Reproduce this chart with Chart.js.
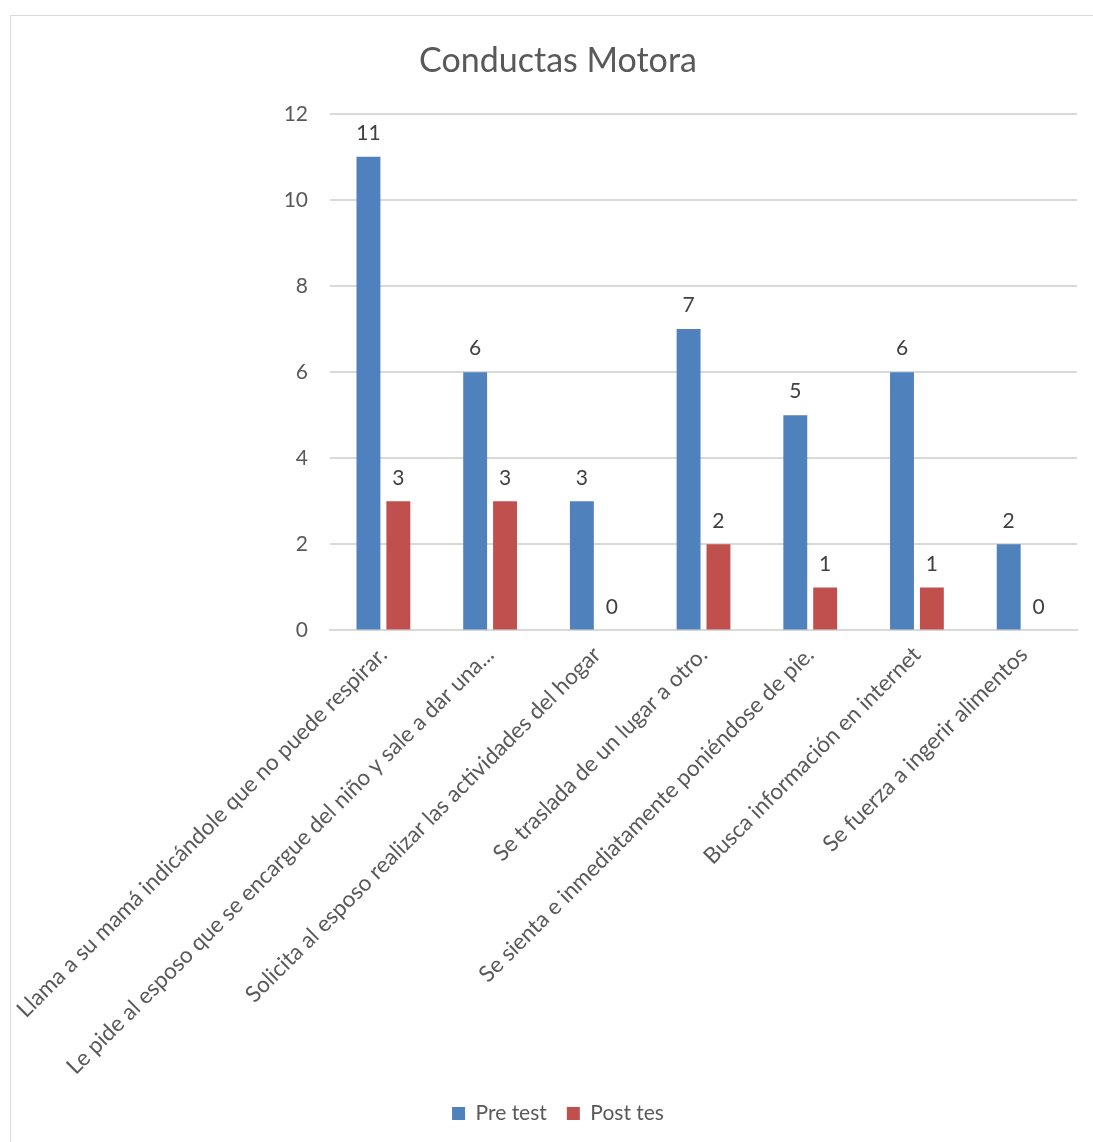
<!DOCTYPE html>
<html>
<head>
<meta charset="utf-8">
<script src="https://cdn.jsdelivr.net/npm/chart.js@4"></script>
<style>
  html, body { margin: 0; padding: 0; background: #fff; overflow: hidden; }
  #box {
    position: absolute; left: 10px; top: 15px;
    width: 1100px; height: 1140px;
    border: 1px solid #d9d9d9; box-sizing: border-box;
  }
  #wrap { position: absolute; left: 0; top: 0; width: 1071px; height: 1125px; }
</style>
</head>
<body>
<div id="box"><div id="wrap"><canvas id="chart"></canvas></div></div>
<script>
const categories = [
    'Llama a su mamá indicándole que no puede respirar.',
    'Le pide al esposo que se encargue del niño y sale a dar una...',
    'Solicita al esposo realizar las actividades del hogar',
    'Se traslada de un lugar a otro.',
    'Se sienta e inmediatamente poniéndose de pie.',
    'Busca información en internet',
    'Se fuerza a ingerir alimentos'
];
const preTest = [11, 6, 3, 7, 5, 6, 2];
const postTest = [3, 3, 0, 2, 1, 1, 0];
const yTicks = [0, 2, 4, 6, 8, 10, 12];

const FONT = 'Lato, "Open Sans", sans-serif';
const GREY = '#595959';

// draws the value above each bar, like the data labels in the original
const valueLabels = {
    id: 'valueLabels',
    afterDatasetsDraw(chart) {
        const ctx = chart.ctx;
        ctx.save();
        ctx.font = '21px ' + FONT;
        ctx.fillStyle = '#404040';
        ctx.textAlign = 'center';
        ctx.textBaseline = 'bottom';
        chart.data.datasets.forEach((ds, i) => {
            chart.getDatasetMeta(i).data.forEach((bar, j) => {
                ctx.fillText(ds.data[j], bar.x, bar.y - 13);
            });
        });
        ctx.restore();
    }
};

const ctx = document.getElementById('chart').getContext('2d');
new Chart(ctx, {
    type: 'bar',
    data: {
        labels: categories,
        datasets: [{
            label: 'Pre test',
            data: preTest,
            backgroundColor: '#4F81BD',
            categoryPercentage: 0.56,
            barPercentage: 0.8
        }, {
            label: 'Post tes',
            data: postTest,
            backgroundColor: '#C0504D',
            categoryPercentage: 0.56,
            barPercentage: 0.8
        }]
    },
    options: {
        responsive: true,
        maintainAspectRatio: false,
        animation: false,
        layout: { padding: { left: 28, right: 5, top: 10, bottom: 7 } },
        plugins: {
            title: {
                display: true,
                text: 'Conductas Motora',
                color: '#595959',
                font: { family: FONT, size: 34, weight: 'normal' },
                padding: { top: 15, bottom: 32 }
            },
            legend: {
                position: 'bottom',
                labels: {
                    color: GREY,
                    font: { family: FONT, size: 21 },
                    boxWidth: 13,
                    boxHeight: 13,
                    padding: 20
                }
            },
            tooltip: { enabled: false }
        },
        scales: {
            x: {
                grid: { display: false },
                border: { color: '#d9d9d9', width: 2 },
                ticks: {
                    color: GREY,
                    font: { family: FONT, size: 22.5 },
                    maxRotation: 45,
                    minRotation: 45,
                    autoSkip: false
                }
            },
            y: {
                min: 0,
                max: 12,
                afterBuildTicks(axis) {
                    axis.ticks = yTicks.map(v => ({ value: v }));
                },
                grid: { color: '#d9d9d9', lineWidth: 2, drawTicks: false },
                border: { display: false },
                ticks: {
                    color: GREY,
                    font: { family: FONT, size: 21 },
                    padding: 22
                }
            }
        }
    },
    plugins: [valueLabels]
});
</script>
</body>
</html>
